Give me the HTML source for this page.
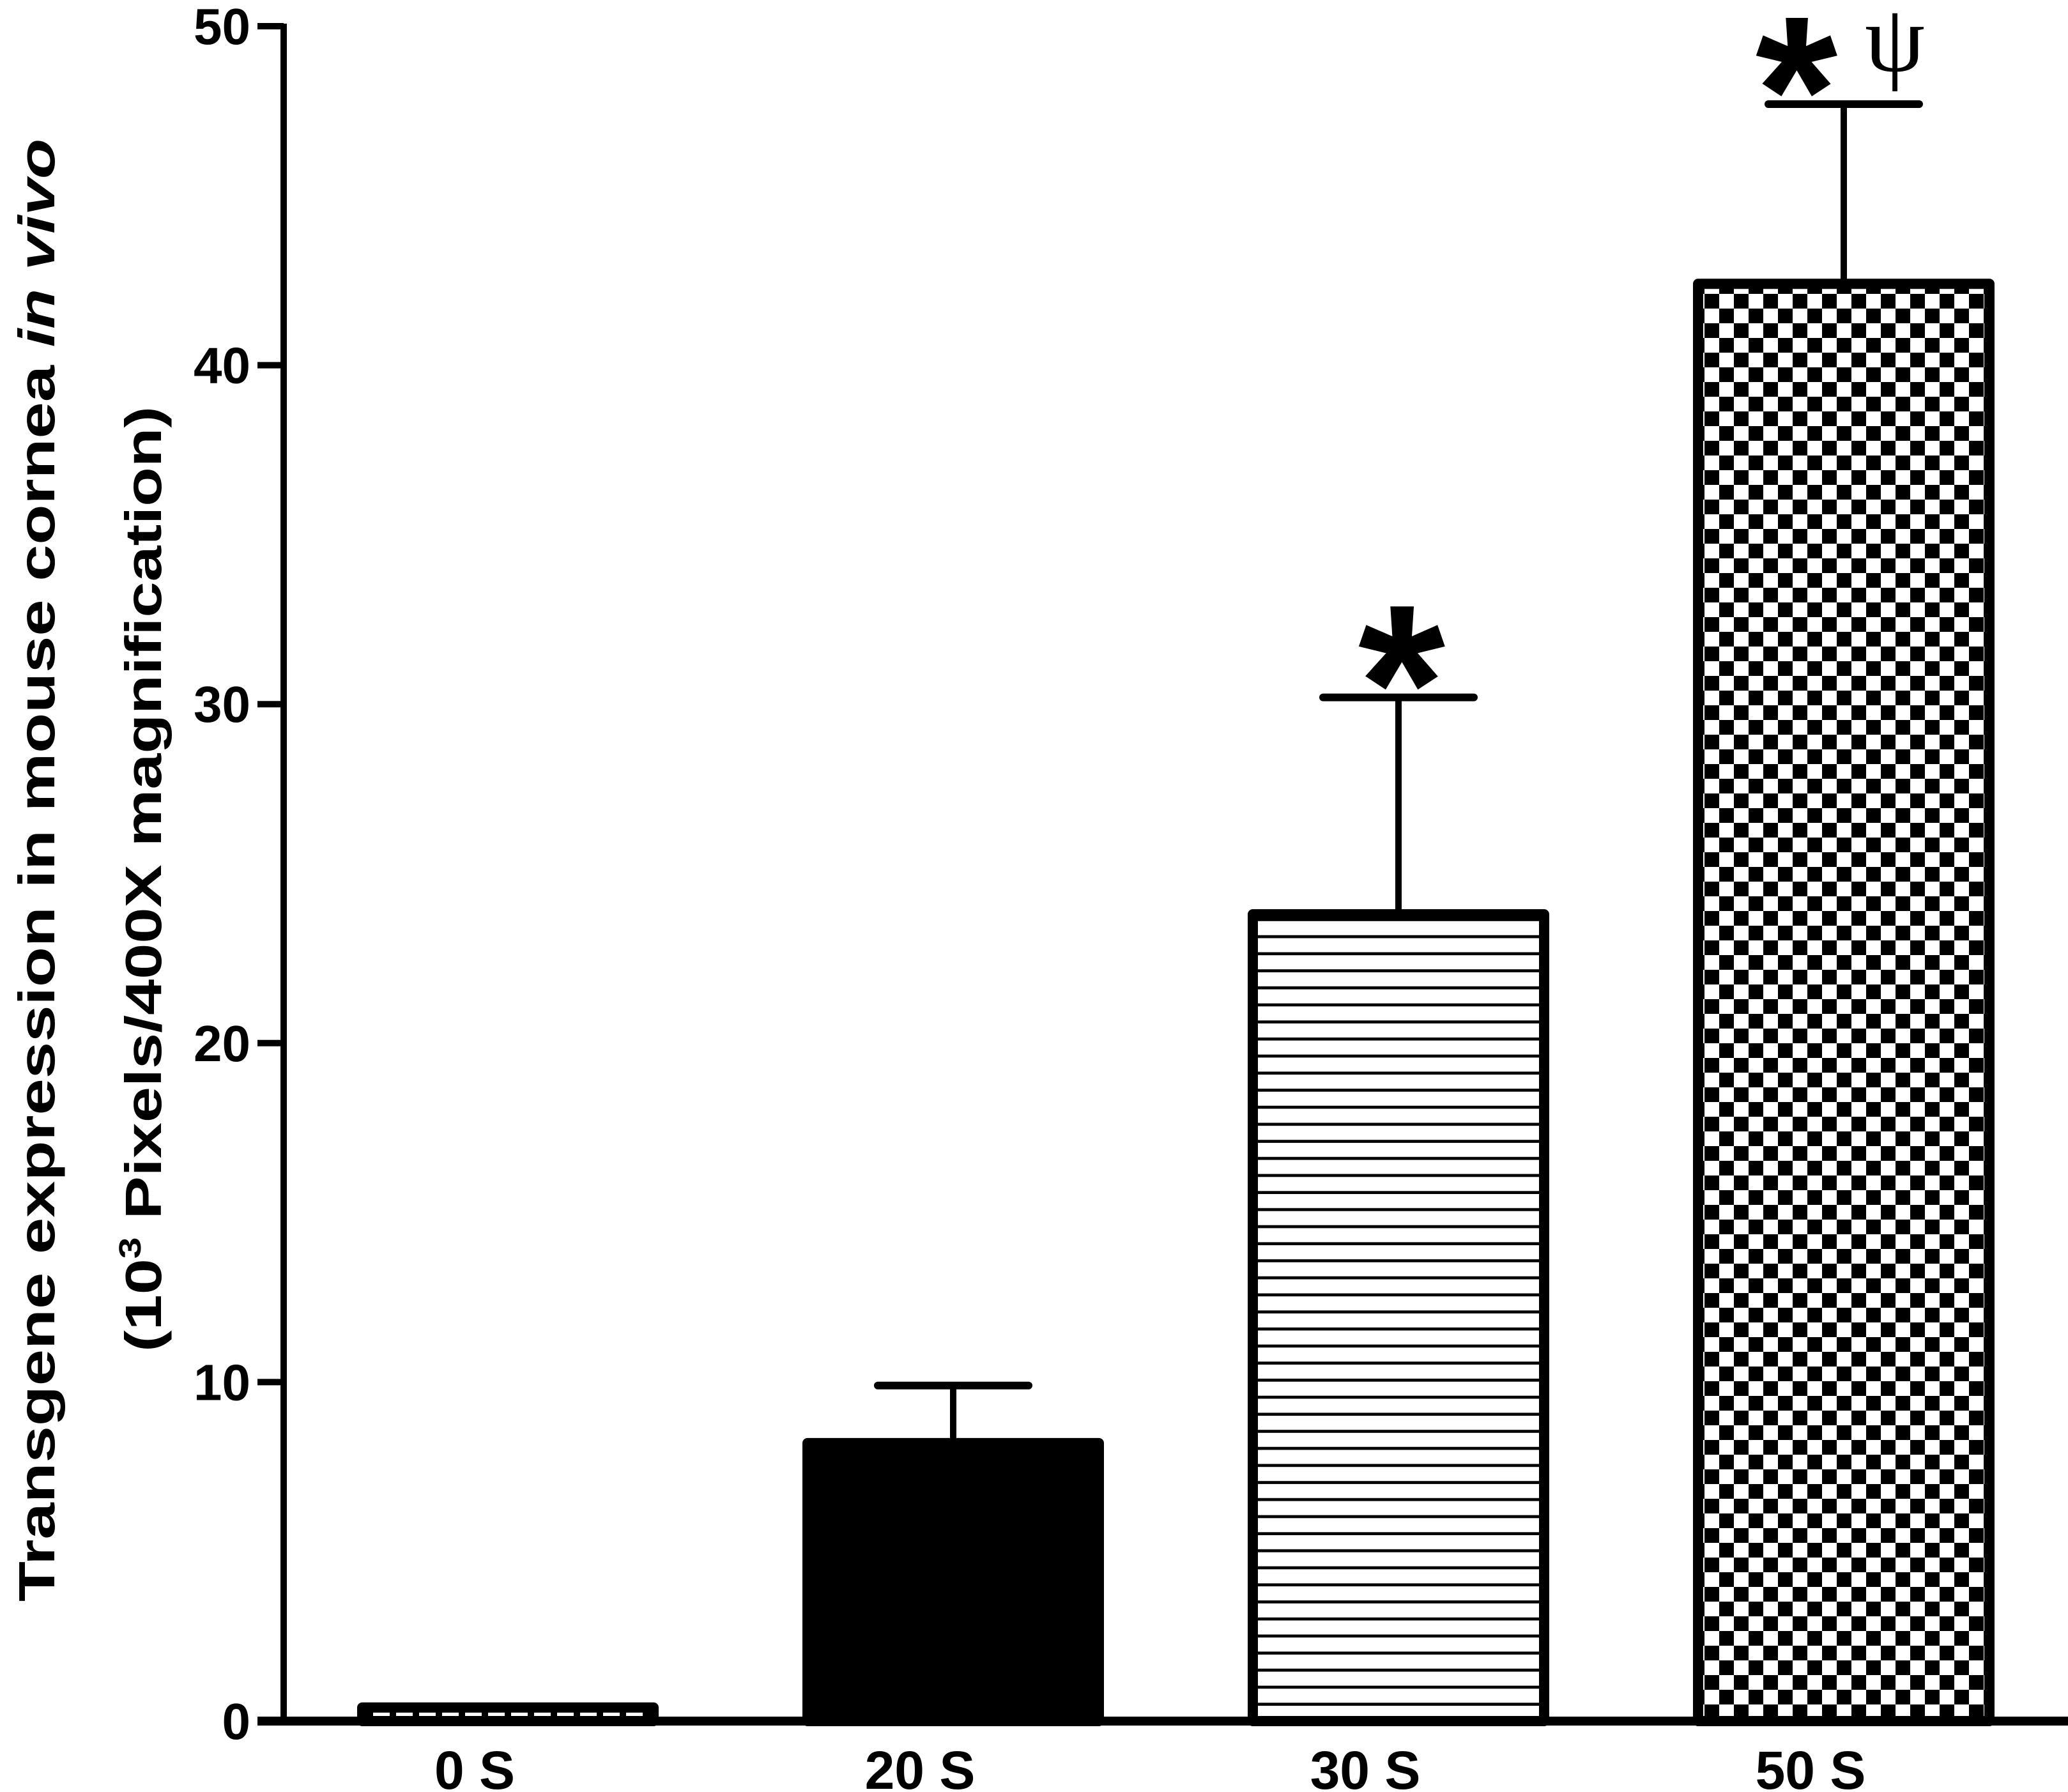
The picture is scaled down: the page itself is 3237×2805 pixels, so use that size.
<!DOCTYPE html>
<html><head><meta charset="utf-8"><style>
html,body{margin:0;padding:0;background:#fff}
svg{display:block}
text{font-family:"Liberation Sans",sans-serif;font-weight:bold;fill:#000}
</style></head><body>
<svg id="chart" width="3237" height="2805" viewBox="0 0 3237 2805" xmlns="http://www.w3.org/2000/svg">
<defs>
<pattern id="pat-dots" patternUnits="userSpaceOnUse" width="36" height="36" x="0" y="0">
<rect width="36" height="36" fill="#000"/><rect x="8" y="10" width="26" height="26" fill="#fff"/>
</pattern>
<pattern id="pat-lines" patternUnits="userSpaceOnUse" width="40" height="26.7" x="0" y="0">
<rect width="40" height="26.7" fill="#fff"/><rect y="22" width="40" height="4.7" fill="#000"/>
</pattern>
<pattern id="pat-check" patternUnits="userSpaceOnUse" width="46" height="46" x="0" y="0">
<rect width="46" height="46" fill="#fff"/><rect width="23" height="23" fill="#000"/><rect x="23" y="23" width="23" height="23" fill="#000"/>
</pattern>
</defs>
<g id="axes"></g>
<g id="bars"></g>
<text transform="translate(85,1362) rotate(-90)" text-anchor="middle" font-size="80" textLength="2290" lengthAdjust="spacingAndGlyphs">Transgene expression in mouse cornea <tspan font-style="italic">in vivo</tspan></text>
<text transform="translate(252,1376) rotate(-90)" text-anchor="middle" font-size="80" textLength="1480" lengthAdjust="spacingAndGlyphs">(10<tspan font-size="48" dy="-32">3</tspan><tspan dy="32"> Pixels/400X magnification)</tspan></text>
<text x="2194" y="1190" text-anchor="middle" font-size="350">*</text>
<text x="2812" y="255" text-anchor="middle" font-size="330">*</text>
<text x="2966" y="111" text-anchor="middle" font-size="150" style="font-family:'Liberation Serif',serif;font-weight:normal">ψ</text>
</svg>
<script>
const categories = ["0 S","20 S","30 S","50 S"];
const values = [0.4, 8.2, 23.8, 42.4];
const errors = [0, 9.9, 30.2, 47.7];
const fills = ["url(#pat-dots)","#000","url(#pat-lines)","url(#pat-check)"];
const yTicks = [0,10,20,30,40,50];
const yTickLabels = ["0","10","20","30","40","50"];

const NS = "http://www.w3.org/2000/svg";
const y0 = 2694, y50 = 41;
function yScale(v){ return y0 - (y0 - y50) * v / 50; }
const centers0 = 795, step = 697;
function xScale(i){ return centers0 + step * i; }
function mk(tag, attrs, parent){ const e = document.createElementNS(NS, tag); for (const k in attrs) e.setAttribute(k, attrs[k]); parent.appendChild(e); return e; }

const axes = document.getElementById('axes');
const bars = document.getElementById('bars');

categories.forEach((c, i) => {
  const cx = xScale(i), w = 456, sw = 16;
  const top = yScale(values[i]);
  if (errors[i] > 0) {
    const ey = yScale(errors[i]);
    const el = mk('line', {x1: cx, x2: cx, y1: top, y2: ey, stroke: '#000', 'stroke-width': 10}, bars);
    
    
    const cap = mk('line', {x1: cx - 118, x2: cx + 118, y1: ey, y2: ey, stroke: '#000', 'stroke-width': 12, 'stroke-linecap': 'round'}, bars);
    
    
  }
  const r = mk('rect', {x: cx - w / 2, y: top, width: w, height: Math.max(y0 - top, 1), fill: fills[i], stroke: '#000', 'stroke-width': sw, 'stroke-linejoin': 'round'}, bars);
  
  
  const t = mk('text', {x: cx - 52, y: 2800, 'text-anchor': 'middle', 'font-size': 84}, axes);
  t.textContent = c;
  
  
});

const ya = mk('line', {x1: 444, x2: 444, y1: y50 - 4, y2: y0, stroke: '#000', 'stroke-width': 10}, axes);


const xa = mk('line', {x1: 403, x2: 3237, y1: y0, y2: y0, stroke: '#000', 'stroke-width': 14}, axes);


yTicks.forEach((v, i) => {
  const y = yScale(v);
  const tk = mk('line', {x1: 403, x2: 444, y1: y, y2: y, stroke: '#000', 'stroke-width': 10}, axes);
  
  
  const tl = mk('text', {x: 392, y: y + 28, 'text-anchor': 'end', 'font-size': 80}, axes);
  tl.textContent = yTickLabels[i];
  
  
});
</script>
</body></html>
